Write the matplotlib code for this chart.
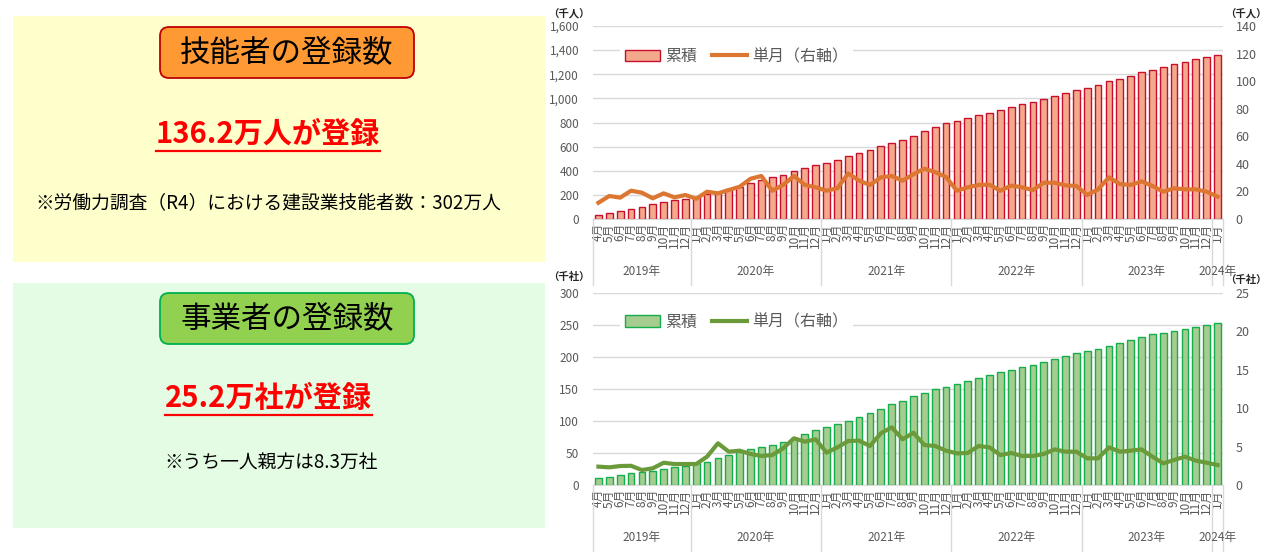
import numpy as np
import matplotlib
matplotlib.use('Agg')
import matplotlib.pyplot as plt
import matplotlib.transforms as mtransforms
from matplotlib.patches import Rectangle, FancyBboxPatch
from matplotlib.lines import Line2D

plt.rcParams['font.family'] = ['Noto Sans CJK JP', 'DejaVu Sans']

# categories: 2019/4 .. 2024/1
years = [2019] * 9 + [2020] * 12 + [2021] * 12 + [2022] * 12 + [2023] * 12 + [2024]
months = list(range(4, 13)) + list(range(1, 13)) * 4 + [1]
year_labels = ['2019年', '2020年', '2021年', '2022年', '2023年', '2024年']

# 技能者 (千人)
worker_cum = [31, 50, 66, 85, 102, 122, 138, 155, 168,
              185, 205, 221, 246, 268, 296, 323, 346, 367, 398, 420, 445,
              467, 487, 522, 550, 573, 604, 632, 655, 688, 727, 763, 793,
              812, 837, 860, 881, 906, 928, 951, 973, 997, 1022, 1047, 1072,
              1089, 1108, 1141, 1163, 1188, 1216, 1238, 1260, 1283, 1304, 1324, 1343,
              1362]
worker_month = [11.8, 16.7, 15.5, 20.5, 19.1, 15.0, 18.6, 15.7, 17.4,
                14.7, 19.8, 18.6, 21.0, 23.4, 29.2, 31.2, 20.5, 24.7, 31.2, 24.7, 23.0,
                20.5, 22.3, 33.1, 27.8, 24.7, 30.2, 31.2, 27.8, 32.5, 36.5, 34.0, 30.5,
                20.5, 23.0, 24.7, 24.9, 20.5, 24.2, 23.0, 21.0, 26.3, 26.3, 24.4, 24.0,
                17.4, 21.5, 30.2, 25.4, 24.7, 27.3, 24.0, 19.8, 22.3, 21.5, 21.5, 19.8,
                16.2]

# 事業者 (千社)
firm_cum = [10.4, 13.0, 15.6, 18.2, 20.8, 22.4, 25.0, 27.6, 29.7,
            33.9, 36.5, 41.7, 46.4, 52.1, 55.7, 58.9, 63.0, 67.7, 73.9, 80.2, 85.4,
            90.1, 94.8, 100.5, 107.0, 112.0, 119.3, 126.6, 132.0, 139.1, 144.3, 149.5, 153.6,
            157.3, 162.0, 167.2, 172.4, 176.0, 180.2, 184.4, 188.0, 192.2, 196.4, 201.0, 205.7,
            209.4, 213.0, 217.7, 222.4, 226.6, 231.3, 235.4, 238.0, 240.6, 244.3, 247.2, 249.8,
            252.4]
firm_month = [2.39, 2.30, 2.47, 2.50, 1.95, 2.17, 2.90, 2.73, 2.73,
              2.73, 3.69, 5.43, 4.34, 4.47, 4.04, 3.78, 3.90, 4.77, 6.08, 5.64, 5.95,
              4.21, 4.90, 5.73, 5.77, 5.08, 6.73, 7.51, 5.95, 6.81, 5.21, 5.08, 4.47,
              4.12, 4.17, 5.08, 4.90, 3.90, 4.17, 3.78, 3.78, 4.04, 4.64, 4.34, 4.34,
              3.47, 3.47, 4.90, 4.34, 4.47, 4.64, 3.69, 2.82, 3.26, 3.69, 3.17, 2.90,
              2.60]

W, H = 1268, 552
fig = plt.figure(figsize=(W / 100, H / 100), dpi=100)
fig.patch.set_facecolor('white')

GRAY = '#595959'
GRID = '#D9D9D9'


def fx(x):
    return x / W


def fy(y):
    return 1 - y / H


def draw_chart(top, bottom, cum, mon, lmax, lstep, rmax, rstep,
               face, edge, lcolor, unit, unit_y_l, unit_y_r, leg_y):
    ax = fig.add_axes([fx(593), fy(bottom), fx(1223) - fx(593), fy(top) - fy(bottom)])
    x = np.arange(len(cum))
    bars = ax.bar(x, cum, width=0.62, color=face, edgecolor=edge, linewidth=1.0,
                  label='累積', zorder=2)
    ax.set_xlim(-0.5, len(cum) - 0.5)
    ax.set_ylim(0, lmax)
    ax.set_yticks(np.arange(0, lmax + 1, lstep))
    ax.yaxis.set_major_formatter(matplotlib.ticker.FuncFormatter(lambda v, p: f'{int(v):,}'))
    ax.grid(axis='y', color=GRID, linewidth=1.0)
    ax.set_axisbelow(True)
    for s in ['top', 'left', 'right']:
        ax.spines[s].set_visible(False)
    ax.spines['bottom'].set_color(GRID)
    ax.tick_params(axis='y', length=0, pad=10, labelsize=8.5, labelcolor=GRAY)
    ax.set_xticks(x)
    ax.set_xticklabels([f'{m}月' for m in months], rotation=90, fontsize=8.5, color=GRAY)
    ax.tick_params(axis='x', length=0, pad=3)

    ax2 = ax.twinx()
    line, = ax2.plot(x, mon, color=lcolor, linewidth=3.0, label='単月（右軸）',
                     solid_joinstyle='round', zorder=3)
    ax2.set_ylim(0, rmax)
    ax2.set_yticks(np.arange(0, rmax + 1, rstep))
    for s in ax2.spines.values():
        s.set_visible(False)
    ax2.tick_params(axis='y', length=0, pad=9, labelsize=9, labelcolor=GRAY)

    # year groups
    trans = mtransforms.blended_transform_factory(ax.transData, ax.transAxes)
    h = bottom - top
    depth = -66 / h
    bounds = [-0.5]
    start = 0
    for yr, lab in zip(sorted(set(years)), year_labels):
        n = years.count(yr)
        ax.text(start + (n - 1) / 2, -53 / h, lab, transform=trans, ha='center',
                va='center', fontsize=8.5, color=GRAY)
        start += n
        bounds.append(start - 0.5)
    for b in bounds:
        ax.plot([b, b], [0, depth], transform=trans, color=GRID, linewidth=1.0,
                clip_on=False)

    leg = ax2.legend([bars, line], ['累積', '単月（右軸）'], loc='center left',
                     bbox_to_anchor=(fx(612), fy(leg_y)), bbox_transform=fig.transFigure,
                     ncol=2, fontsize=11.5, frameon=True, fancybox=False,
                     borderpad=0.3, handlelength=2.2, handletextpad=0.35,
                     columnspacing=0.9, labelcolor=GRAY)
    leg.get_frame().set_edgecolor('none')
    leg.get_frame().set_facecolor('white')
    leg.get_frame().set_alpha(1)

    fig.text(fx(569), fy(unit_y_l), unit, ha='center', va='center', fontsize=7.5,
             fontweight='bold', color='#262626')
    fig.text(fx(1246), fy(unit_y_r), unit, ha='center', va='center', fontsize=7.5,
             fontweight='bold', color='#262626')
    return ax


draw_chart(26, 219, worker_cum, worker_month, 1600, 200, 140, 20,
           '#F3A98C', '#C8102E', '#DD7630', '（千人）', 13, 13, 56.5)
draw_chart(293, 485, firm_cum, firm_month, 300, 50, 25, 5,
           '#A6CC8F', '#14AE4C', '#6A9A3A', '（千社）', 277, 280, 322)

# left panels
fig.add_artist(Rectangle((fx(13), fy(262)), fx(545) - fx(13), fy(16) - fy(262),
                         transform=fig.transFigure, facecolor='#FFFFCC',
                         edgecolor='none', zorder=0))
fig.add_artist(Rectangle((fx(13), fy(528)), fx(545) - fx(13), fy(283) - fy(528),
                         transform=fig.transFigure, facecolor='#E3FCE3',
                         edgecolor='none', zorder=0))


def title_box(y0, y1, face, edge, text):
    box = FancyBboxPatch((160 / 100, (H - y1) / 100), 254 / 100, (y1 - y0) / 100,
                         boxstyle='round,pad=0,rounding_size=0.09',
                         transform=fig.dpi_scale_trans, facecolor=face,
                         edgecolor=edge, linewidth=1.3, zorder=1)
    fig.add_artist(box)
    fig.text(fx(287), fy((y0 + y1) / 2), text, ha='center', va='center',
             fontsize=22, color='black', zorder=2)


title_box(27, 78, '#FF9933', '#C00000', '技能者の登録数')
title_box(293, 344, '#92D050', '#00B050', '事業者の登録数')

red1 = fig.text(fx(268), fy(134), '136.2万人が登録', ha='center', va='center',
                fontsize=21, fontweight='bold', color='#FF0000')
red2 = fig.text(fx(268), fy(398), '25.2万社が登録', ha='center', va='center',
                fontsize=21, fontweight='bold', color='#FF0000')
fig.text(fx(268), fy(203), '※労働力調査（R4）における建設業技能者数：302万人',
         ha='center', va='center', fontsize=13.5, color='black')
fig.text(fx(271), fy(463), '※うち一人親方は8.3万社', ha='center', va='center',
         fontsize=13.5, color='black')

renderer = fig.canvas.get_renderer()
for t, yl in [(red1, 151.5), (red2, 414.5)]:
    bb = t.get_window_extent(renderer)
    fig.add_artist(Line2D([bb.x0 / W, bb.x1 / W], [fy(yl), fy(yl)],
                          transform=fig.transFigure, color='#FF0000', linewidth=1.6))

fig.savefig('out.png', dpi=100)
